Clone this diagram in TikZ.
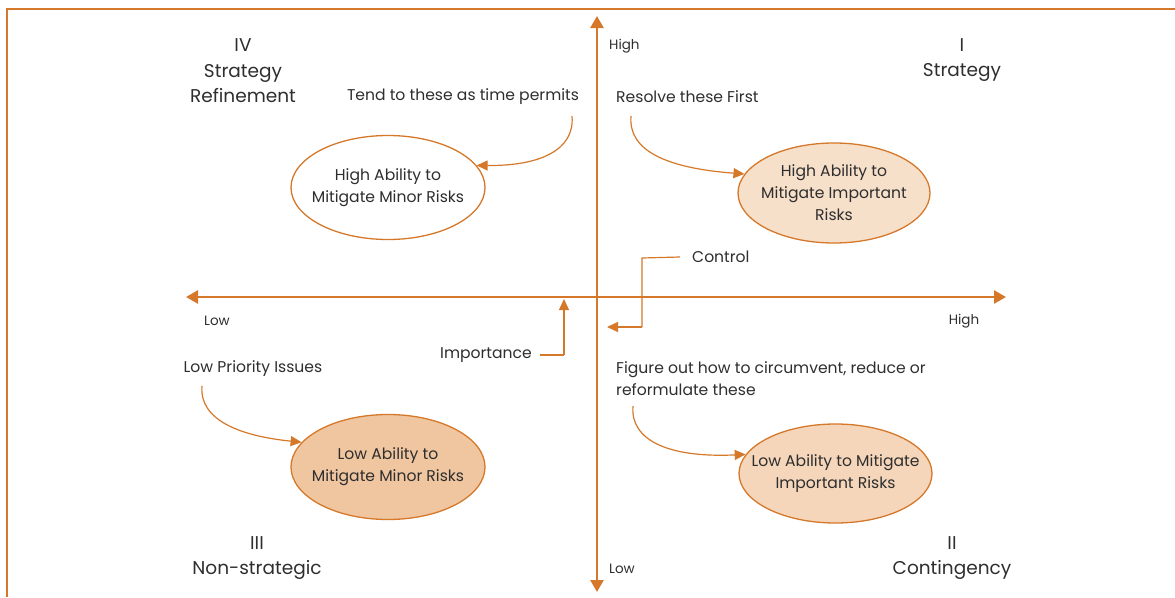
\documentclass[tikz,border=0pt]{standalone}
\usepackage{fontspec}
\setmainfont{Poppins}
\usetikzlibrary{arrows.meta,shapes.geometric}
\definecolor{axisorange}{HTML}{D5782A}
\definecolor{txtgray}{HTML}{2E2E2E}
\definecolor{fillpale}{HTML}{F7E0CA}
\definecolor{fillmid}{HTML}{F5D6BA}
\definecolor{filldeep}{HTML}{F0C6A0}
\tikzset{
  axisline/.style={draw=axisorange, line width=2.6pt, -{Triangle[length=12pt,width=13pt]}},
  conn/.style={draw=axisorange, line width=1.2pt, -{Triangle[length=11pt,width=10pt]}},
  plain/.style={draw=axisorange, line width=1.2pt},
  lbl/.style={text=txtgray, font=\fontsize{15.6}{18}\selectfont, inner sep=0pt},
  axlbl/.style={text=txtgray, font=\fontsize{13.5}{15}\selectfont, inner sep=0pt},
  quad/.style={text=txtgray, font=\fontsize{18.5}{25.5}\selectfont, align=center, inner sep=0pt},
  risk/.style={ellipse, draw=axisorange, line width=1.3pt, minimum width=194pt, minimum height=102pt,
    text=txtgray, font=\fontsize{15.6}{22}\selectfont, align=center, inner xsep=-16pt, inner ysep=0pt},
}
\begin{document}
\begin{tikzpicture}[x=1pt, y=-1pt]
  \useasboundingbox (0,0) rectangle (1175,597);
  % frame: top and left edges
  \draw[axisorange, line width=1.5pt] (7,597) -- (7,9) -- (1175,9);

  % axes
  \coordinate (origin) at (597,297);
  \coordinate (ytop) at (597,16);
  \coordinate (ybot) at (597,592);
  \coordinate (xleft) at (186,297);
  \coordinate (xright) at (1006,297);
  \draw[axisline] (origin) -- (ytop);
  \draw[axisline] (origin) -- (ybot);
  \draw[axisline] (origin) -- (xleft);
  \draw[axisline] (origin) -- (xright);

  % axis end labels
  \node[axlbl, anchor=west] (yhigh) at (609,46) {High};
  \node[axlbl, anchor=west] (ylow) at (609,569) {Low};
  \node[axlbl] (xlow) at (217,321) {Low};
  \node[axlbl] (xhigh) at (964,321) {High};

  % quadrant titles
  \node[quad] (q4) at (243,71) {IV\\Strategy\\Refinement};
  \node[quad] (q1) at (962,60) {I\\Strategy};
  \node[quad] (q3) at (257,558) {III\\Non-strategic};
  \node[quad] (q2) at (952,558) {II\\Contingency};

  % risk ellipses
  \node[risk, fill=white, minimum height=104pt] (hamin) at (388,187.5) {High Ability to\\Mitigate Minor Risks};
  \node[risk, fill=fillpale, minimum width=192pt, minimum height=100pt] (haimp) at (834,193) {High Ability to\\Mitigate Important\\Risks};
  \node[risk, fill=filldeep, minimum height=105pt] (lamin) at (388,467) {Low Ability to\\Mitigate Minor Risks};
  \node[risk, fill=fillmid, minimum width=193pt, minimum height=99pt] (laimp) at (835.5,473.5) {Low Ability to Mitigate\\Important Risks};

  % annotations
  \node[lbl] (tend) at (463,97) {Tend to these as time permits};
  \node[lbl, anchor=west] (resolve) at (616,97) {Resolve these First};
  \node[lbl, anchor=west] (control) at (692,257) {Control};
  \node[lbl] (importance) at (486,355) {Importance};
  \node[lbl] (lowprio) at (253,369) {Low Priority Issues};
  \node[lbl, anchor=north west, align=left, font=\fontsize{15.6}{22}\selectfont] (figure) at (616,361)
    {Figure out how to circumvent, reduce or\\reformulate these};

  % curved pointers to the ellipses
  \coordinate (tendfoot) at (572,116);
  \coordinate (resfoot) at (631,116);
  \coordinate (lowfoot) at (202,386);
  \coordinate (figfoot) at (633,406);
  \draw[conn] (tendfoot) .. controls (575,150) and (540,166) .. (hamin.14);
  \draw[conn] (resfoot) .. controls (628,150) and (665,168) .. (haimp.168);
  \draw[conn] (lowfoot) .. controls (199,420) and (240,436) .. (lamin.164);
  \draw[conn] (figfoot) .. controls (630,440) and (668,458) .. (laimp.168);

  % elbow pointers near the origin
  \coordinate (ctrlbend) at (642,258);
  \coordinate (ctrlknee) at (642,327);
  \coordinate (ctrltip) at (607,327);
  \draw[plain] ([xshift=-12pt]control.west) -- (ctrlbend) -- (ctrlknee);
  \draw[conn] (ctrlknee) -- (ctrltip);
  \coordinate (impknee) at (564,355);
  \coordinate (imptip) at (564,299);
  \draw[plain] ([xshift=8pt]importance.east) -- (impknee);
  \draw[conn] (impknee) -- (imptip);
\end{tikzpicture}
\end{document}
